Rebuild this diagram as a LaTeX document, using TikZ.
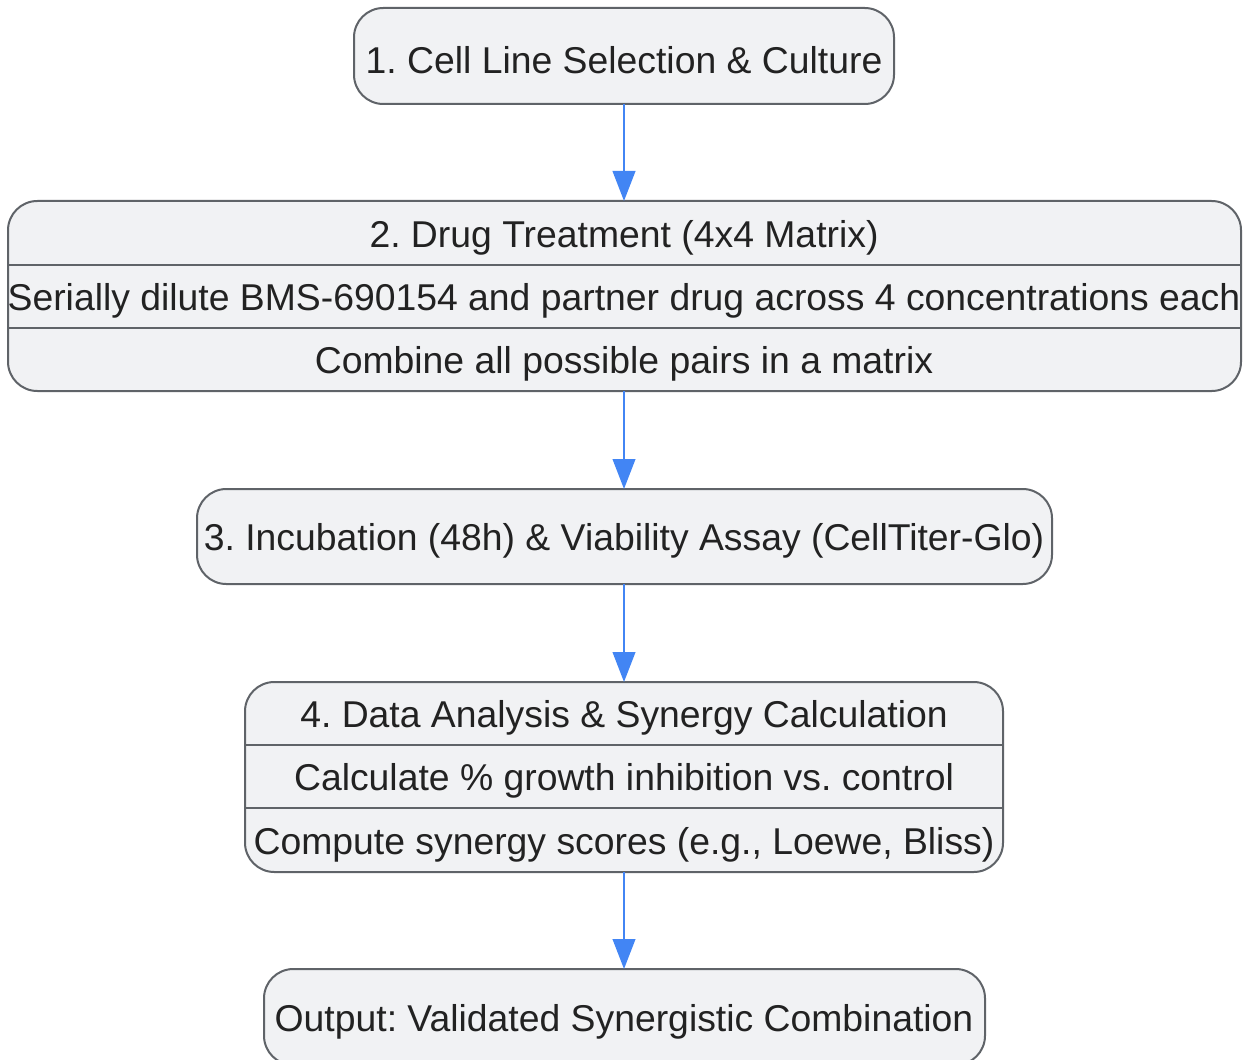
\documentclass[tikz,border=0pt]{standalone}
\usepackage{fontspec}
\setmainfont{Liberation Sans}
\usetikzlibrary{arrows.meta}
\definecolor{boxfill}{HTML}{F1F2F4}
\definecolor{boxline}{HTML}{5F6368}
\definecolor{arrowblue}{HTML}{4285F4}
\definecolor{txt}{HTML}{222222}
\frenchspacing
\begin{document}
\begin{tikzpicture}[x=0.75pt,y=-0.75pt,
  box/.style={draw=boxline,fill=boxfill,line width=1.5pt,rounded corners=22pt,inner sep=0pt},
  lbl/.style={inner sep=0pt,text=txt,font=\fontsize{28}{32}\selectfont\frenchspacing,anchor=center},
  divider/.style={draw=boxline,line width=1.5pt},
  flow/.style={draw=arrowblue,line width=1.5pt,-{Triangle[length=22.5pt,width=17pt]}}]
\useasboundingbox (0,0) rectangle (1244,1059);
% box 1
\path[box] (354,8) rectangle (894,104);
\node[lbl] (t1) at (624,60) {1. Cell Line Selection \& Culture};
\coordinate (b1) at (624,104);
% box 2
\path[box] (8,201) rectangle (1241,391);
\draw[divider] (8,265) -- (1241,265);
\draw[divider] (8,328) -- (1241,328);
\coordinate (a2) at (624,201);
\coordinate (b2) at (624,391);
\node[lbl] (t2a) at (624,238) {2. Drug Treatment (4x4 Matrix)};
\node[lbl] (t2b) at (624,301) {Serially dilute BMS-690154 and partner drug across 4 concentrations each};
\node[lbl] (t2c) at (624,364) {Combine all possible pairs in a matrix};
% box 3
\path[box] (197,489) rectangle (1052,584);
\coordinate (a3) at (624,489);
\coordinate (b3) at (624,584);
\node[lbl] (t3) at (624,541) {3. Incubation (48h) \& Viability Assay (CellTiter-Glo)};
% box 4
\path[box] (245,682) rectangle (1003,872);
\draw[divider] (245,745) -- (1003,745);
\draw[divider] (245,808) -- (1003,808);
\coordinate (a4) at (624,682);
\coordinate (b4) at (624,872);
\node[lbl] (t4a) at (624,718) {4. Data Analysis \& Synergy Calculation};
\node[lbl] (t4b) at (624,781) {Calculate \% growth inhibition vs. control};
\node[lbl] (t4c) at (624,845) {Compute synergy scores (e.g., Loewe, Bliss)};
% box 5
\path[box] (264,969) rectangle (985,1065);
\coordinate (a5) at (624,969);
\node[lbl] (t5) at (624,1022) {Output: Validated Synergistic Combination};
% arrows
\draw[flow] (b1) -- (a2);
\draw[flow] (b2) -- (a3);
\draw[flow] (b3) -- (a4);
\draw[flow] (b4) -- (a5);
\end{tikzpicture}
\end{document}
